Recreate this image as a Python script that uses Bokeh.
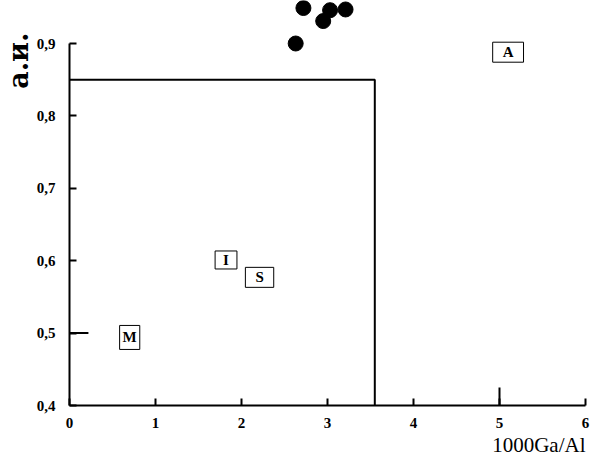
from bokeh.plotting import figure
from bokeh.models import Label, Range1d, FixedTicker, Title
from bokeh.embed import file_html
from bokeh.resources import INLINE

# sample points
pts_x = [2.63, 2.72, 2.95, 3.03, 3.21]
pts_y = [0.900, 0.949, 0.931, 0.946, 0.947]

# field boundary (I/S/M vs A)
field_x = [0.0, 3.55, 3.55]
field_y = [0.85, 0.85, 0.40]

# short extra segments
seg_x0 = [0.0, 5.0]
seg_y0 = [0.50, 0.40]
seg_x1 = [0.22, 5.0]
seg_y1 = [0.50, 0.425]

# field labels
region_names = ["A", "I", "S", "M"]
region_x = [5.10, 1.82, 2.21, 0.70]
region_y = [0.888, 0.601, 0.577, 0.494]

x_ticks = [0, 1, 2, 3, 4, 5, 6]
y_ticks = [0.4, 0.5, 0.6, 0.7, 0.8, 0.9]
y_tick_labels = ["0,4", "0,5", "0,6", "0,7", "0,8", "0,9"]

x_title = "1000Ga/Al"
y_title = "а.и."

# box paddings (horizontal, vertical) for the field labels
box_pad = [(10, 2), (8, 1), (10, 2), (3, 4)]

p = figure(width=590, height=456, x_range=Range1d(0, 6), y_range=Range1d(0.4, 0.9594),
           output_backend="svg", toolbar_location=None,
           min_border_left=67, min_border_right=5, min_border_top=0, min_border_bottom=51)
p.outline_line_color = None
p.grid.visible = False
p.background_fill_color = "white"

for ax in (p.xaxis[0], p.yaxis[0]):
    ax.axis_line_width = 2
    ax.axis_line_color = "black"
    ax.major_tick_line_width = 2
    ax.major_tick_line_color = "black"
    ax.major_tick_in = 7
    ax.major_tick_out = 0
    ax.minor_tick_line_color = None
    ax.major_label_text_font = "Liberation Serif"
    ax.major_label_text_font_style = "bold"
    ax.major_label_text_font_size = "15px"
    ax.major_label_text_color = "black"

p.xaxis.ticker = FixedTicker(ticks=x_ticks)
p.yaxis.ticker = FixedTicker(ticks=y_ticks)
p.yaxis.major_label_overrides = {t: l for t, l in zip(y_ticks, y_tick_labels)}
p.yaxis.bounds = (0.4, 0.9)
p.yaxis.major_label_standoff = 14
p.xaxis.major_label_standoff = 12

p.line(field_x, field_y, line_color="black", line_width=2)
p.segment(seg_x0, seg_y0, seg_x1, seg_y1, line_color="black", line_width=2)
p.scatter(pts_x, pts_y, size=15, marker="circle", fill_color="black", line_color="black")

for name, x, y, pad in zip(region_names, region_x, region_y, box_pad):
    p.add_layout(Label(x=x, y=y, text=name, text_align="center", text_baseline="middle",
                       text_font="Liberation Serif", text_font_style="bold", text_font_size="15px",
                       text_color="black", border_line_color="black", border_line_width=1,
                       background_fill_color="white", padding=pad))

p.add_layout(Title(text=x_title, align="right", text_font="Liberation Serif",
                   text_font_style="normal", text_font_size="21px", text_color="black",
                   standoff=0), "below")
p.add_layout(Title(text=y_title, align="right", text_font="DejaVu Serif",
                   text_font_style="bold", text_font_size="27px", text_color="black",
                   standoff=0, offset=32), "left")

open("out.html", "w").write(file_html(p, INLINE))
